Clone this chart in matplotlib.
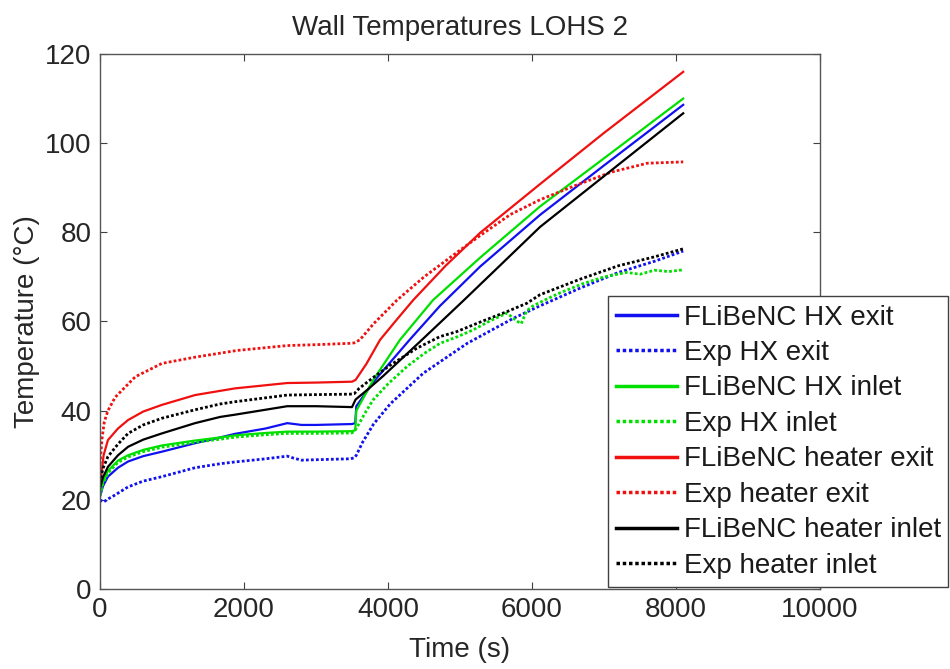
import matplotlib
matplotlib.use("Agg")
import matplotlib.pyplot as plt

plt.rcParams['font.family'] = ['Liberation Sans', 'DejaVu Sans']

# ---------------- data ----------------
t_hx_exit_model = [0, 40, 110, 250, 390, 600, 860, 1320, 1670, 1875, 2300, 2600, 2800, 3000, 3500, 3545,
                   3560, 3800, 4306, 4722, 5278, 6111, 7000, 8100]
T_hx_exit_model = [20.7, 23, 25.2, 27.2, 28.6, 29.8, 30.8, 32.7, 34.0, 34.8, 36.0, 37.2, 36.8, 36.8, 37.0, 37.2,
                   41.0, 46.5, 56.0, 63.5, 72.3, 83.9, 95.0, 108.6]

t_hx_exit_exp = [0, 50, 110, 170, 390, 600, 860, 1320, 1670, 1875, 2300, 2600, 2700, 2800, 3000, 3470, 3530,
                 3560, 3650, 3800, 4030, 4490, 5100, 5740, 6110, 6670, 7200, 7700, 8100]
T_hx_exit_exp = [20.0, 19.5, 20.2, 20.7, 22.9, 24.2, 25.2, 27.2, 28.1, 28.5, 29.2, 29.8, 29.3, 28.9, 29.0, 29.2, 29.4,
                 30.0, 33.0, 37.0, 41.5, 48.4, 55.1, 60.7, 63.5, 67.5, 71.0, 73.5, 75.8]

t_hx_inlet_model = [0, 40, 110, 250, 390, 600, 860, 1320, 1670, 1900, 2300, 2600, 3000, 3500, 3545,
                    3560, 3800, 4167, 4625, 5278, 6111, 7000, 8100]
T_hx_inlet_model = [21.5, 24.0, 26.5, 28.8, 30.0, 31.2, 32.2, 33.3, 34.0, 34.5, 35.0, 35.3, 35.3, 35.4, 35.6,
                    40.0, 47.0, 55.9, 64.8, 74.3, 85.8, 96.6, 110.0]

t_hx_inlet_exp = [0, 40, 110, 250, 390, 600, 860, 1320, 1670, 1900, 2300, 2600, 3000, 3500, 3560, 3700, 3792,
                  4000, 4264, 4500, 4722, 4950, 5181, 5400, 5653, 5780, 5850, 5926, 6014, 6200, 6400, 6708,
                  7000, 7315, 7500, 7700, 7900, 8100]
T_hx_inlet_exp = [21.0, 23.6, 26.0, 28.4, 29.6, 30.8, 31.8, 32.9, 33.6, 34.1, 34.6, 34.9, 34.9, 35.0, 36.0, 40.0, 42.4,
                  46.0, 49.9, 52.8, 55.1, 56.5, 58.1, 60.0, 61.9, 60.2, 59.5, 62.4, 63.5, 65.0, 66.5, 68.5,
                  70.0, 71.0, 70.6, 71.5, 71.2, 71.6]

t_heater_exit_model = [0, 50, 110, 250, 390, 600, 860, 1320, 1875, 2600, 3000, 3500, 3550, 3700, 3890, 4100,
                       4350, 4800, 5280, 6110, 7000, 8100]
T_heater_exit_model = [23.0, 30.0, 33.4, 36.0, 37.9, 39.8, 41.3, 43.5, 45.0, 46.2, 46.3, 46.5, 46.9, 50.5, 55.9, 60.0,
                       64.8, 72.5, 79.9, 90.8, 102.3, 116.0]

t_heater_exit_exp = [0, 30, 60, 110, 210, 490, 860, 1320, 1670, 1900, 2600, 3000, 3470, 3530, 3610, 3800, 4125,
                     4500, 5000, 5300, 5700, 6110, 6600, 7100, 7600, 8100]
T_heater_exit_exp = [28.0, 34.0, 37.5, 40.0, 43.0, 47.6, 50.6, 52.0, 52.9, 53.5, 54.6, 54.8, 55.1, 55.2, 55.9, 59.5, 64.8,
                     70.0, 76.0, 79.5, 84.0, 87.3, 90.5, 93.5, 95.5, 95.8]

t_heater_inlet_model = [0, 40, 110, 250, 390, 600, 860, 1320, 1670, 1875, 2600, 3000, 3500, 3550, 3700, 3935,
                        4200, 4472, 5042, 5500, 6111, 7000, 8100]
T_heater_inlet_model = [22.5, 25.0, 27.4, 30.0, 31.9, 33.5, 34.9, 37.2, 38.6, 39.1, 41.0, 41.0, 40.8, 42.5, 44.5, 47.8,
                        51.8, 55.9, 64.6, 71.7, 81.2, 92.6, 106.7]

t_heater_inlet_exp = [0, 40, 110, 250, 390, 600, 860, 1320, 1670, 1875, 2600, 3000, 3470, 3530, 3600, 3800, 4030,
                      4400, 4720, 4950, 5300, 5650, 5930, 6110, 6670, 7200, 7700, 8100]
T_heater_inlet_exp = [23.8, 27.0, 29.7, 32.5, 34.9, 36.8, 38.3, 40.2, 41.5, 42.0, 43.5, 43.6, 43.7, 43.8, 45.0, 47.5, 50.2,
                      54.0, 56.6, 57.7, 60.0, 62.2, 64.1, 66.0, 69.5, 72.5, 74.5, 76.3]

labels = ['FLiBeNC HX exit', 'Exp HX exit', 'FLiBeNC HX inlet', 'Exp HX inlet',
          'FLiBeNC heater exit', 'Exp heater exit', 'FLiBeNC heater inlet', 'Exp heater inlet']
x_ticks = [0, 2000, 4000, 6000, 8000, 10000]
y_ticks = [0, 20, 40, 60, 80, 100, 120]

# ---------------- figure ----------------
BLUE, GREEN, RED, BLACK = '#1010f0', '#00e000', '#f01010', '#000000'
FS = 20

fig = plt.figure(figsize=(9.5, 6.69), dpi=100)
ax = fig.add_axes([100/950, 1-589/669, 720/950, 535/669])

series = [
    (t_hx_exit_model, T_hx_exit_model, BLUE, '-'),
    (t_hx_exit_exp, T_hx_exit_exp, BLUE, ':'),
    (t_hx_inlet_model, T_hx_inlet_model, GREEN, '-'),
    (t_hx_inlet_exp, T_hx_inlet_exp, GREEN, ':'),
    (t_heater_exit_model, T_heater_exit_model, RED, '-'),
    (t_heater_exit_exp, T_heater_exit_exp, RED, ':'),
    (t_heater_inlet_model, T_heater_inlet_model, BLACK, '-'),
    (t_heater_inlet_exp, T_heater_inlet_exp, BLACK, ':'),
]
for (tx, ty, c, ls), lab in zip(series, labels):
    if ls == '-':
        ax.plot(tx, ty, color=c, linestyle='-', linewidth=1.6, label=lab)
    else:
        ax.plot(tx, ty, color=c, linestyle=(0, (1.0, 0.8)), linewidth=2.0, label=lab)

ax.set_xlim(0, 10000)
ax.set_ylim(0, 120)
ax.set_xticks(x_ticks)
ax.set_xticklabels([str(v) for v in x_ticks])
ax.set_yticks(y_ticks)
ax.set_yticklabels([str(v) for v in y_ticks])
ax.tick_params(direction='in', top=True, right=True, length=5, width=0.8,
               labelsize=FS, colors='#404040', labelcolor='#262626', pad=6)
for s in ax.spines.values():
    s.set_color('#555555')
    s.set_linewidth(1.0)

ax.set_xlabel('Time (s)', fontsize=FS, color='#262626', labelpad=10)
ax.set_ylabel('Temperature (\u00b0C)', fontsize=FS, color='#262626', labelpad=4)
ax.set_title('Wall Temperatures LOHS 2', fontsize=FS, color='#262626', pad=14)

leg = ax.legend(loc='lower left', bbox_to_anchor=(508/720, 2/535, 340/720, 291/535), mode='expand',
                borderaxespad=0, fontsize=FS, frameon=True, fancybox=False, framealpha=1,
                edgecolor='#404040', handlelength=2.2, handletextpad=0.25, labelspacing=0.34,
                borderpad=0.3)
leg.get_frame().set_linewidth(1.0)
for txt in leg.get_texts():
    txt.set_color('#1a1a1a')
for h in leg.get_lines():
    h.set_linewidth(2.5)

fig.savefig('out.png', dpi=100)
